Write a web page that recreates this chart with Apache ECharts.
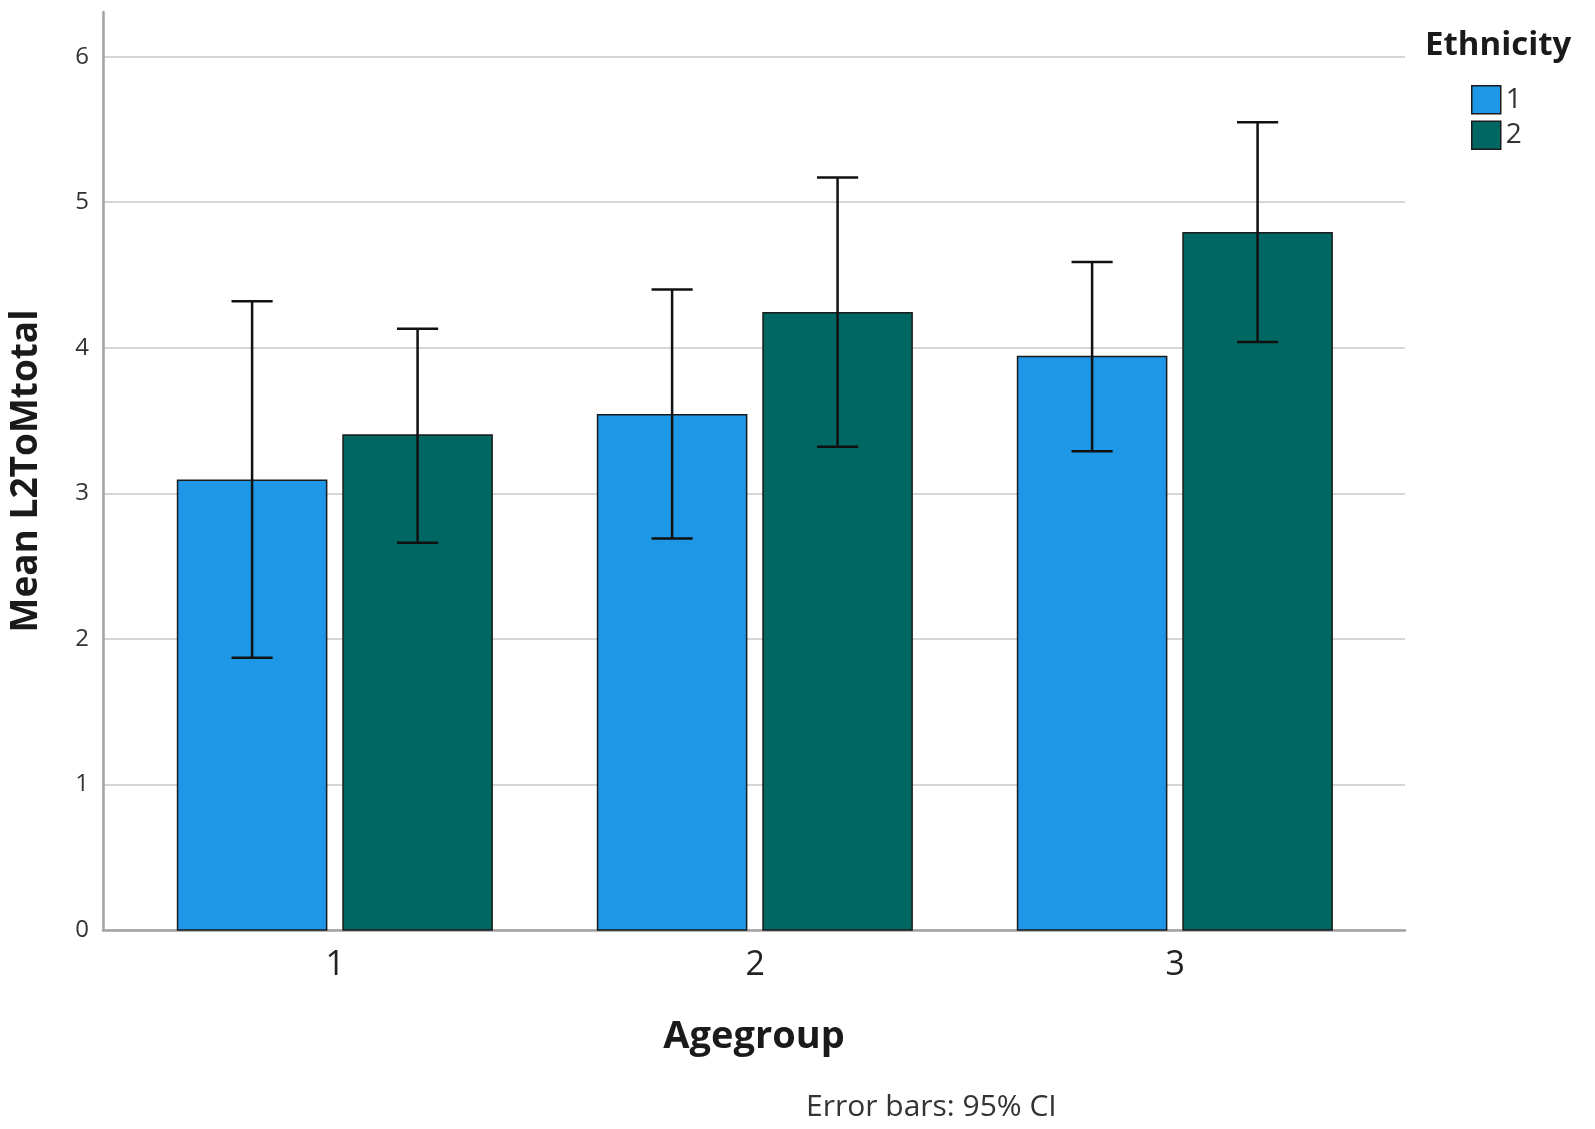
<!DOCTYPE html>
<html>
<head>
<meta charset="utf-8">
<script src="https://cdn.jsdelivr.net/npm/echarts@6/dist/echarts.min.js"></script>
<style>html,body{margin:0;padding:0;background:#fff}#c{width:1595px;height:1129px}</style>
</head>
<body>
<div id="c"></div>
<script>
const categories = ['1', '2', '3'];
const seriesNames = ['1', '2'];
const means1 = [3.09, 3.54, 3.94];
const lower1 = [1.87, 2.69, 3.29];
const upper1 = [4.32, 4.40, 4.59];
const means2 = [3.40, 4.24, 4.79];
const lower2 = [2.66, 3.32, 4.04];
const upper2 = [4.13, 5.17, 5.55];
const yTicks = [0, 1, 2, 3, 4, 5, 6];

const colors = ['#1E98E6', '#006763'];
const FONT = 'Open Sans';

function makeData(means, lower, upper) {
  return categories.map((c, i) => [i + 1, means[i], lower[i], upper[i]]);
}

function renderFor(offset) {
  return function (params, api) {
    const x = api.value(0), m = api.value(1), lo = api.value(2), hi = api.value(3);
    const base = api.coord([x + offset, 0]);
    const top = api.coord([x + offset, m]);
    const w = api.size([0.355, 0])[0];
    const capW = api.size([0.098, 0])[0];
    const pLo = api.coord([x + offset, lo]);
    const pHi = api.coord([x + offset, hi]);
    const cx = base[0];
    return {
      type: 'group',
      children: [
        { type: 'rect', shape: { x: cx - w / 2, y: top[1], width: w, height: base[1] - top[1] },
          style: { fill: api.visual('color'), stroke: '#1b1b1b', lineWidth: 1.5 } },
        { type: 'line', shape: { x1: cx, y1: pLo[1], x2: cx, y2: pHi[1] }, style: { stroke: '#111', lineWidth: 2.5 } },
        { type: 'line', shape: { x1: cx - capW / 2, y1: pHi[1], x2: cx + capW / 2, y2: pHi[1] }, style: { stroke: '#111', lineWidth: 2.5 } },
        { type: 'line', shape: { x1: cx - capW / 2, y1: pLo[1], x2: cx + capW / 2, y2: pLo[1] }, style: { stroke: '#111', lineWidth: 2.5 } }
      ]
    };
  };
}

const chart = echarts.init(document.getElementById('c'), null, { renderer: 'canvas' });
chart.setOption({
  animation: false,
  backgroundColor: '#fff',
  textStyle: { fontFamily: FONT },
  title: [
    { text: 'Ethnicity', left: 1420, top: 24, textStyle: { fontFamily: FONT, fontWeight: 'bold', fontSize: 33, color: '#1a1a1a' } },
    { text: 'Error bars: 95% CI', left: 801, top: 1087, textStyle: { fontFamily: FONT, fontWeight: 'normal', fontSize: 30, color: '#333' } }
  ],
  legend: {
    orient: 'vertical', left: 1466, top: 80, itemWidth: 29, itemHeight: 28, itemGap: 6, icon: 'rect',
    data: seriesNames.map((n, i) => ({ name: n, itemStyle: { color: colors[i], borderColor: '#1b1b1b', borderWidth: 1.5 } })),
    textStyle: { fontFamily: FONT, fontSize: 28, color: '#333', padding: [0, 0, 0, 0] },
    selectedMode: false
  },
  grid: { left: 103, right: 190, top: 12, bottom: 199, containLabel: false },
  xAxis: {
    type: 'value', min: 0.447, max: 3.547,
    axisLine: { show: true, onZero: false, lineStyle: { color: '#a3a3a3', width: 2.5 } },
    axisTick: { show: false },
    splitLine: { show: false },
    axisLabel: {
      customValues: [1, 2, 3], fontFamily: FONT, fontSize: 34, color: '#222', margin: 18,
      formatter: v => categories[Math.round(v) - 1] || ''
    },
    name: 'Agegroup', nameLocation: 'middle', nameGap: 88,
    nameTextStyle: { fontFamily: FONT, fontWeight: 'bold', fontSize: 38, color: '#1a1a1a' }
  },
  yAxis: {
    type: 'value', min: 0, max: 6.307, interval: 1,
    axisLine: { show: true, lineStyle: { color: '#a3a3a3', width: 2.5 } },
    axisTick: { show: false },
    splitLine: { show: true, showMaxLine: false, lineStyle: { color: '#d6d6d6', width: 2 } },
    axisLabel: {
      showMaxLabel: false, fontFamily: FONT, fontSize: 24, color: '#333', margin: 14,
      formatter: v => yTicks.indexOf(v) >= 0 ? String(v) : ''
    },
    name: 'Mean L2ToMtotal', nameLocation: 'middle', nameGap: 58,
    nameTextStyle: { fontFamily: FONT, fontWeight: 'bold', fontSize: 37, color: '#1a1a1a' }
  },
  series: [
    { name: seriesNames[0], type: 'custom', renderItem: renderFor(-0.198), itemStyle: { color: colors[0] },
      encode: { x: 0, y: [1, 2, 3] }, data: makeData(means1, lower1, upper1) },
    { name: seriesNames[1], type: 'custom', renderItem: renderFor(0.196), itemStyle: { color: colors[1] },
      encode: { x: 0, y: [1, 2, 3] }, data: makeData(means2, lower2, upper2) }
  ]
});
</script>
</body>
</html>
